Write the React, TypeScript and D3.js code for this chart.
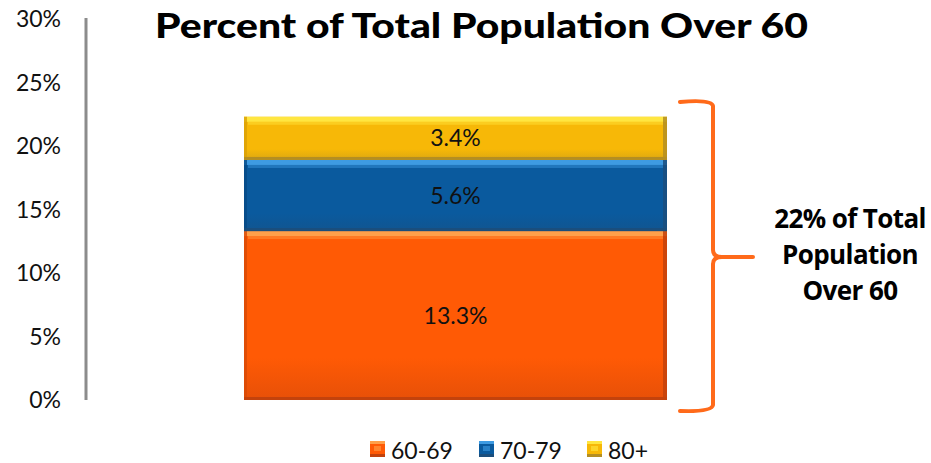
import React from "react";
import * as d3 from "d3";

const categories = ["Total"];
const seriesNames = ["60-69", "70-79", "80+"];
const values6069 = [13.3];
const values7079 = [5.6];
const values80 = [3.4];
const yTicks = [0, 5, 10, 15, 20, 25, 30];
const title = "Percent of Total Population Over 60";
const annotation = ["22% of Total", "Population", "Over 60"];

const palette = [
  { main: "#FF5A05", light: "#FFA04A", dark: "#C3420C", side: "#D84A06" },
  { main: "#0A5A9E", light: "#3E9BE2", dark: "#1B4E7C", side: "#064A86" },
  { main: "#F7B807", light: "#FFE640", dark: "#B48E22", side: "#D9A006" },
];

export default function App() {
  const W = 931, H = 463;
  const y = d3.scaleLinear().domain([0, 30]).range([400, 19]);
  const x = d3.scaleBand().domain(categories).range([244, 667]).padding(0);
  const rows = categories.map((c, i) => ({
    cat: c,
    "60-69": values6069[i],
    "70-79": values7079[i],
    "80+": values80[i],
  }));
  const stacked = d3.stack<any>().keys(seriesNames)(rows);
  const font = "'Lato', 'Open Sans', sans-serif";

  return (
    <svg width={W} height={H} style={{ position: "absolute", left: 0, top: 0 }} fontFamily={font}>
      <defs>
        {palette.map((p, i) => (
          <linearGradient key={i} id={`g${i}`} x1="0" y1="0" x2="0" y2="1">
            <stop offset="0" stopColor={p.main} />
            <stop offset="0.75" stopColor={p.main} />
            <stop offset="1" stopColor={d3.interpolateRgb(p.main, p.dark)(0.4)} />
          </linearGradient>
        ))}
      </defs>
      <text x={155} y={38} fontSize={35} fontWeight={900} textLength={653} lengthAdjust="spacingAndGlyphs" fill="#000">
        {title}
      </text>
      <line x1={86} x2={86} y1={y(30) - 1} y2={y(0)} stroke="#8C8C8C" strokeWidth={3} />
      {yTicks.map((t) => (
        <text key={t} x={61} y={y(t) + 8} textAnchor="end" fontSize={23} fill="#111">
          {t}%
        </text>
      ))}
      {stacked.map((s, si) =>
        s.map((d, di) => {
          const p = palette[si];
          const x0 = x(categories[di]) as number;
          const w = x.bandwidth();
          const y1 = y(d[1]);
          const y0 = y(d[0]);
          const h = y0 - y1;
          return (
            <g key={`${si}-${di}`}>
              <rect x={x0} y={y1} width={w} height={h} fill={`url(#g${si})`} />
              <rect x={x0} y={y1} width={w} height={5} fill={p.light} />
              <rect x={x0 + 4} y={y1 + 5} width={w - 8} height={3} fill={p.light} opacity={0.45} />
              <rect x={x0} y={y1} width={3} height={h} fill={p.side} opacity={0.8} />
              <rect x={x0 + w - 4} y={y1} width={4} height={h} fill={p.dark} opacity={0.85} />
              <rect x={x0} y={y0 - 3} width={w} height={3} fill={p.dark} />
              <text x={x0 + w / 2} y={(y0 + y1) / 2 + 8} textAnchor="middle" fontSize={23} fill="#111">
                {(d[1] - d[0]).toFixed(1)}%
              </text>
            </g>
          );
        })
      )}
      <path
        d="M680,102 Q712,99 713,106 L713,250 Q713,257 722,257 L753,257 M722,257 Q713,257 713,264 L713,405 Q712,412 680,411"
        fill="none"
        stroke="#FF6A1A"
        strokeWidth={4}
        strokeLinecap="round"
        strokeLinejoin="round"
      />
      {annotation.map((l, i) => (
        <text key={i} x={850} y={228 + i * 36} textAnchor="middle" fontSize={26} fontWeight={700} fill="#000" fontFamily="'Open Sans', sans-serif" letterSpacing={-0.6}>
          {l}
        </text>
      ))}
      {seriesNames.map((n, i) => {
        const p = palette[i];
        const lx = [370, 479, 587][i];
        return (
          <g key={n}>
            <rect x={lx} y={441} width={15} height={16} fill={p.main} />
            <rect x={lx} y={441} width={15} height={3} fill={p.light} />
            <rect x={lx} y={454} width={15} height={3} fill={p.dark} />
            <rect x={lx + 4} y={446} width={7} height={5} fill={p.light} opacity={0.6} />
            <text x={lx + 21} y={459} fontSize={23} fill="#111">
              {n}
            </text>
          </g>
        );
      })}
    </svg>
  );
}
